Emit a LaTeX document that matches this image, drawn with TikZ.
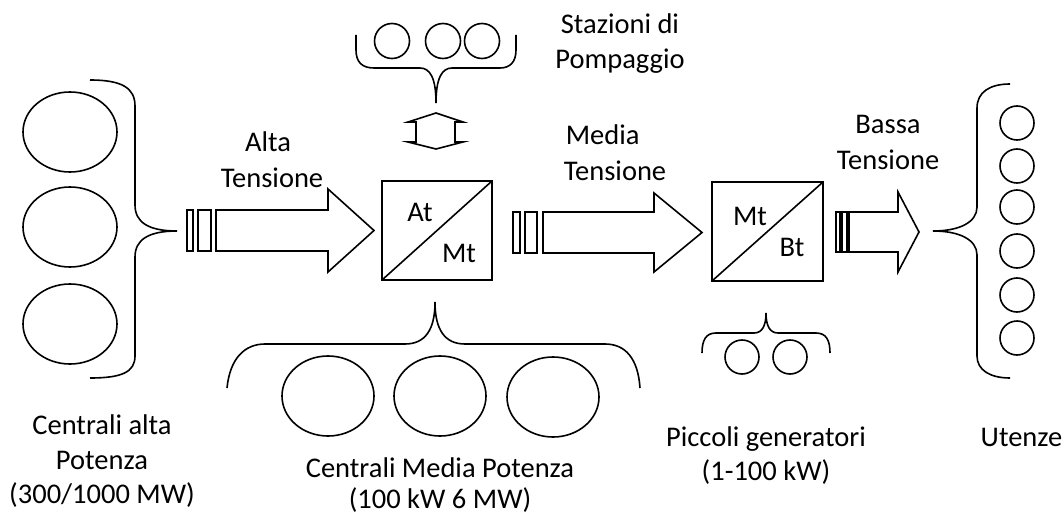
\documentclass[tikz,border=0pt]{standalone}
\usepackage{fontspec}
\setmainfont{Carlito}
\usetikzlibrary{shapes.geometric}
\begin{document}
\begin{tikzpicture}[x=1pt,y=-1pt,line width=1.6pt,
  lbl/.style={font=\fontsize{28.5}{35}\selectfont,inner sep=0pt,anchor=base},
  boxlbl/.style={font=\fontsize{28.5}{35}\selectfont,inner sep=0pt,anchor=center},
  ell/.style={draw,ellipse,inner sep=0pt,outer sep=0pt,minimum width=#1},
  circ/.style={draw,circle,inner sep=0pt,outer sep=0pt,minimum size=#1},
  conv/.style={draw,rectangle,inner sep=0pt,outer sep=0pt},
  fatarrow/.style={draw,fill=white,line join=miter},
  stripe/.style={draw,fill=white},
  brace/.style={draw,line cap=butt}]
\useasboundingbox (0,0) rectangle (1064,513);

% ---------- left: high power plants ----------
\node[ell=94pt,minimum height=80pt] (L1) at (70,132) {};
\node[ell=94pt,minimum height=80pt] (L2) at (70,227) {};
\node[ell=94pt,minimum height=80pt] (L3) at (70,324) {};
\coordinate (Ltip) at (177,231);
\draw[brace] (90,80) .. controls (122,80) and (135,88) .. (135,106)
  -- (135,205) .. controls (135,222) and (148,231) .. (Ltip)
  .. controls (148,231) and (135,240) .. (135,257)
  -- (135,356) .. controls (135,372) and (122,378) .. (90,378);

% ---------- arrow 1 ----------
\draw[stripe] (187,210) rectangle (193,251);
\draw[stripe] (198,210) rectangle (211,251);
\draw[fatarrow] (216,210) -- (328,210) -- (328,189) -- (374,230.5) -- (328,272) -- (328,251) -- (216,251) -- cycle;
\node[lbl] (alta) at (268,152) {Alta};
\node[lbl] (tens1) at (272,187) {Tensione};

% ---------- box At/Mt ----------
\node[conv,minimum width=110pt,minimum height=99pt] (B1) at (437,230.5) {};
\draw (B1.south west) -- (B1.north east);
\node[boxlbl] (At) at (420,212) {At};
\node[boxlbl] (Mt1) at (459,253) {Mt};

% ---------- pumping stations ----------
\node[circ=35pt] (P1) at (392,41) {};
\node[circ=35pt] (P2) at (443,41) {};
\node[circ=35pt] (P3) at (482,41) {};
\coordinate (Ttip) at (436,103);
\draw[brace] (356,35) -- (356,50) .. controls (356,62) and (362,68) .. (374,68)
  -- (420,68) .. controls (430,68) and (436,78) .. (Ttip)
  .. controls (436,78) and (442,68) .. (452,68)
  -- (500,68) .. controls (510,68) and (516,62) .. (516,50) -- (516,35);
\node[lbl] (staz) at (620,34) {Stazioni di};
\node[lbl] (pomp) at (620,69) {Pompaggio};
\draw[fatarrow] (436,113) -- (463,122) -- (455,122) -- (455,142) -- (463,142)
  -- (436,149) -- (408,142) -- (416,142) -- (416,122) -- (408,122) -- cycle;

% ---------- medium power plants ----------
\coordinate (Btip) at (435,302);
\draw[brace] (227,388) .. controls (230,358) and (245,344) .. (265,344)
  -- (405,344) .. controls (425,344) and (435,330) .. (Btip)
  .. controls (435,330) and (445,344) .. (465,344)
  -- (605,344) .. controls (625,344) and (638,358) .. (640,388);
\node[ell=92pt,minimum height=80pt] (M1) at (328,396) {};
\node[ell=92pt,minimum height=80pt] (M2) at (440,396) {};
\node[ell=92pt,minimum height=80pt] (M3) at (553,397) {};
\node[lbl] (cmp1) at (440,477) {Centrali Media Potenza};
\node[lbl] (cmp2) at (440,508) {(100 kW 6 MW)};

\node[lbl] (cap1) at (102,434) {Centrali alta};
\node[lbl] (cap2) at (102,469) {Potenza};
\node[lbl] (cap3) at (102,503) {(300/1000 MW)};

% ---------- arrow 2 ----------
\draw[stripe] (513,212) rectangle (520,253);
\draw[stripe] (525,212) rectangle (537,253);
\draw[fatarrow] (543,212) -- (654,212) -- (654,193) -- (702,232.5) -- (654,272) -- (654,253) -- (543,253) -- cycle;
\node[lbl,anchor=base west] (media) at (565,145) {Media};
\node[lbl,anchor=base west] (tens2) at (563,180) {Tensione};

% ---------- box Mt/Bt ----------
\node[conv,minimum width=111pt,minimum height=99pt] (B2) at (767.5,231.5) {};
\draw (B2.south west) -- (B2.north east);
\node[boxlbl] (Mt2) at (750,216) {Mt};
\node[boxlbl] (Bt) at (792,247) {Bt};

% ---------- small generators ----------
\coordinate (Stip) at (766,313);
\draw[brace] (702,353) .. controls (702,340) and (706,333) .. (716,333)
  -- (754,333) .. controls (762,333) and (766,326) .. (Stip)
  .. controls (766,326) and (770,333) .. (778,333)
  -- (816,333) .. controls (826,333) and (830,340) .. (830,353);
\node[circ=34pt] (S1) at (742,357) {};
\node[circ=34pt] (S2) at (790,357) {};
\node[lbl] (pg1) at (766,446) {Piccoli generatori};
\node[lbl] (pg2) at (766,480) {(1-100 kW)};

% ---------- arrow 3 ----------
\draw[stripe,line width=1.4pt] (836,212) rectangle (840,252);
\draw[stripe,line width=1.4pt] (842,212) rectangle (847,252);
\draw[fatarrow] (849,212) -- (898,212) -- (898,192) -- (919,232) -- (898,272) -- (898,252) -- (849,252) -- cycle;
\node[lbl] (bassa) at (888,134) {Bassa};
\node[lbl] (tens3) at (888,169) {Tensione};

% ---------- users ----------
\coordinate (Rtip) at (933,231);
\draw[brace] (1010,84) .. controls (990,84) and (977,92) .. (977,108)
  -- (977,207) .. controls (977,222) and (960,231) .. (Rtip)
  .. controls (960,231) and (977,240) .. (977,255)
  -- (977,356) .. controls (977,370) and (990,378) .. (1010,378);
\foreach \i/\y in {1/123,2/166,3/207,4/251,5/295,6/338}
  \node[circ=34pt] (U\i) at (1017,\y) {};
\node[lbl,anchor=base east] (ut) at (1063,446) {Utenze};
\end{tikzpicture}
\end{document}
